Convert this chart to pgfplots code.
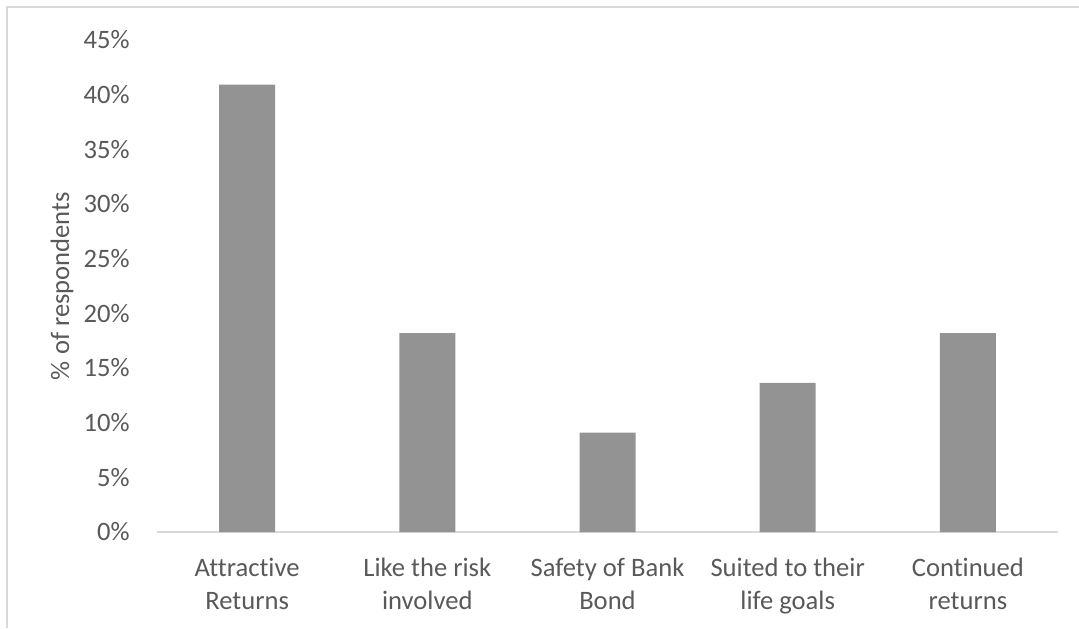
\documentclass[border=0pt]{standalone}
\usepackage{fontspec}
\setmainfont{Carlito}[Ligatures=NoCommon]
\usepackage{pgfplots}
\pgfplotsset{compat=1.18}

\definecolor{barGray}{RGB}{147,147,147}
\definecolor{txtGray}{RGB}{89,89,89}
\definecolor{lineGray}{RGB}{217,217,217}

\begin{document}
\begin{tikzpicture}
% page extent and chart frame
\path[use as bounding box] (0,0) rectangle (539.5pt,314pt);
\draw[lineGray, line width=0.8pt] (3.5pt,0) -- (3.5pt,310.5pt) -- (539.5pt,310.5pt);
\begin{axis}[
  at={(78.5pt,48pt)}, anchor=south west,
  scale only axis,
  width=450.5pt, height=246pt,
  xmin=-0.5, xmax=4.5,
  ymin=0, ymax=45,
  ytick={0,5,...,45},
  xtick=data,
  xticklabels={Attractive\\Returns, Like the risk\\involved, Safety of Bank\\Bond, Suited to their\\life goals, Continued\\returns},
  major tick length=0pt,
  axis x line*=bottom, axis y line*=left,
  y axis line style={draw=none},
  x axis line style={draw=lineGray, line width=1pt},
  /pgf/number format/assume math mode=true,
  yticklabel={\pgfmathprintnumber{\tick}\%},
  font=\fontsize{13.3}{16.2}\selectfont,
  yticklabel style={anchor=east, inner sep=0pt, xshift=-13.5pt, text=txtGray},
  xticklabel style={anchor=north, inner sep=0pt, yshift=-13pt, align=center, text=txtGray},
  every axis y label/.style={at={(axis description cs:-0.1054,0.5)}, rotate=90, anchor=center, text=txtGray},
  ylabel={\% of respondents},
  ybar, bar width=28pt,
  clip=false,
]
\addplot[fill=barGray, draw=none] coordinates {
  (0,40.91) (1,18.18) (2,9.09) (3,13.64) (4,18.18)
};
\end{axis}
\end{tikzpicture}
\end{document}
